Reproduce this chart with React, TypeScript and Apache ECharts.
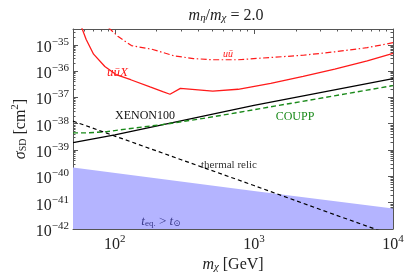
import React, { useEffect, useRef } from 'react';
import * as echarts from 'echarts';

// Data (physical units: GeV, cm^2)
const uuXMass = [57.8, 62.2, 70.3, 84.7, 102, 130, 179, 221, 249, 296, 506, 769, 1321, 2259, 3811, 6531, 10000];
const uuXSigma = [4.4e-35, 1.6e-35, 4.4e-36, 1.5e-36, 7.4e-37, 4.7e-37, 2.5e-37, 1.66e-37, 1.32e-37, 2.2e-37, 1.74e-37, 2.04e-37, 3.4e-37, 6.3e-37, 1.2e-36, 2.45e-36, 4.7e-36];
const uuMass = [90, 105, 131.5, 184, 267, 367, 506, 769, 1321, 2259, 3811, 6531, 10000];
const uuSigma = [4.5e-35, 2.1e-35, 9.3e-36, 6.8e-36, 3.8e-36, 3.0e-36, 2.7e-36, 2.7e-36, 3.3e-36, 4.0e-36, 5.4e-36, 7.8e-36, 1.2e-35];
const xenonMass = [50, 100, 1000, 10000];
const xenonSigma = [1.9e-39, 3.8e-39, 5.0e-38, 5.2e-37];
const couppMass = [50, 61.5, 84.7, 130, 221, 454, 1000, 10000];
const couppSigma = [4.5e-39, 4.5e-39, 4.9e-39, 6.6e-39, 9.3e-39, 1.66e-38, 3.4e-38, 2.8e-37];
const thermalMass = [50, 100, 300, 1000, 3000, 10000];
const thermalSigma = [1.26e-38, 3.4e-39, 4.3e-40, 4.5e-41, 5.5e-42, 5.7e-43];
const teqMass = [50, 1000, 10000];
const teqSigma = [2.15e-40, 2.8e-41, 6e-42];

const xMajorExp = [2, 3, 4];
const yMajorExp = [-42, -41, -40, -39, -38, -37, -36, -35];
const massMin = 50;
const massMax = 1e4;
const sigmaMinExp = -42;
const sigmaMaxExp = -34.4;

const pairs = (xs: number[], ys: number[]) => xs.map((x, i) => [Math.log10(x), Math.log10(ys[i])]);

const SERIF = '"Liberation Serif", "DejaVu Serif", serif';

export default function App() {
  const ref = useRef<HTMLDivElement>(null);
  useEffect(() => {
    if (!ref.current) return;
    const chart = echarts.init(ref.current, null, { renderer: 'svg' });
    const xMin = Math.log10(massMin);
    const xMax = Math.log10(massMax);
    const xMinor: number[] = [];
    for (let n = 1; n <= 3; n++) for (let k = 2; k <= 9; k++) {
      const v = Math.log10(k * Math.pow(10, n));
      if (v > xMin + 1e-6 && v < xMax - 1e-6) xMinor.push(v);
    }
    const yMinor: number[] = [];
    for (let n = -42; n <= -35; n++) for (let k = 2; k <= 9; k++) {
      const v = n + Math.log10(k);
      if (v < sigmaMaxExp) yMinor.push(v);
    }
    const line = { show: true, lineStyle: { color: '#555', width: 1 } };
    const tickStyle = { color: '#555', width: 1 };
    const labelRich = {
      b: { fontFamily: SERIF, fontSize: 16, color: '#222', lineHeight: 19, verticalAlign: 'bottom' },
      s: { fontFamily: SERIF, fontSize: 11, color: '#222', lineHeight: 11, verticalAlign: 'top' },
    };
    const fmt = (v: number) => `{b|10}{s|${String(Math.round(v)).replace('-', '\u2212')}}`;
    const mkX = (pos: string, major: boolean, labels: boolean) => ({
      type: 'value', min: xMin, max: xMax, position: pos, gridIndex: 0,
      axisLine: major ? line : { show: false },
      axisTick: { show: true, inside: true, length: major ? 5 : 2.5, customValues: major ? xMajorExp : xMinor, lineStyle: tickStyle },
      axisLabel: labels ? { show: true, customValues: xMajorExp, formatter: fmt, rich: labelRich, margin: 3 } : { show: false },
      splitLine: { show: false },
    });
    const mkY = (pos: string, major: boolean, labels: boolean) => ({
      type: 'value', min: sigmaMinExp, max: sigmaMaxExp, position: pos, gridIndex: 0,
      axisLine: major ? line : { show: false },
      axisTick: { show: true, inside: true, length: major ? 5 : 2.5, customValues: major ? yMajorExp : yMinor, lineStyle: tickStyle },
      axisLabel: labels ? { show: true, customValues: yMajorExp, formatter: fmt, rich: labelRich, margin: 4 } : { show: false },
      splitLine: { show: false },
    });
    const xAxes: any[] = [mkX('bottom', true, true), mkX('bottom', false, false), mkX('top', true, false), mkX('top', false, false)];
    xAxes[0].name = '{i|m}{sub|\u03c7}{n| [GeV]}';
    xAxes[0].nameLocation = 'middle';
    xAxes[0].nameGap = 23;
    xAxes[0].nameMoveOverlap = false;
    xAxes[0].nameTextStyle = {
      rich: {
        i: { fontFamily: SERIF, fontStyle: 'italic', fontSize: 16, color: '#222', lineHeight: 19, verticalAlign: 'bottom' },
        sub: { fontFamily: SERIF, fontStyle: 'italic', fontSize: 11, color: '#222', lineHeight: 10, verticalAlign: 'bottom' },
        n: { fontFamily: SERIF, fontSize: 16, color: '#222', lineHeight: 19, verticalAlign: 'bottom' },
      },
    };
    const yAxes: any[] = [mkY('left', true, true), mkY('left', false, false), mkY('right', true, false), mkY('right', false, false)];
    yAxes[0].name = '{i|\u03c3}{sub|SD}{n| [cm}{sup|2}{n|]}';
    yAxes[0].nameLocation = 'middle';
    yAxes[0].nameGap = 46;
    yAxes[0].nameRotate = 90;
    yAxes[0].nameMoveOverlap = false;
    yAxes[0].nameTextStyle = {
      rich: {
        i: { fontFamily: SERIF, fontStyle: 'italic', fontSize: 16, color: '#222', lineHeight: 19, verticalAlign: 'bottom' },
        sub: { fontFamily: SERIF, fontSize: 10, color: '#222', lineHeight: 10, verticalAlign: 'bottom' },
        sup: { fontFamily: SERIF, fontSize: 11, color: '#222', lineHeight: 11, verticalAlign: 'top' },
        n: { fontFamily: SERIF, fontSize: 16, color: '#222', lineHeight: 19, verticalAlign: 'bottom' },
      },
    };
    const base = { type: 'line', xAxisIndex: 0, yAxisIndex: 0, symbol: 'none', showSymbol: false, clip: true, silent: true };
    chart.setOption({
      animation: false,
      grid: { left: 62, right: 14, top: 29, bottom: 43, containLabel: false },
      xAxis: xAxes,
      yAxis: yAxes,
      series: [
        { ...base, name: 'teq', data: pairs(teqMass, teqSigma), lineStyle: { width: 0 }, areaStyle: { color: '#b4b4ff', opacity: 1, origin: 'start' }, z: 1 },
        { ...base, name: 'uuX', data: pairs(uuXMass, uuXSigma), lineStyle: { color: '#ff1a1a', width: 1.3 }, z: 3 },
        { ...base, name: 'uu', data: pairs(uuMass, uuSigma), lineStyle: { color: '#ff1a1a', width: 1.2, type: [6, 2.5, 1.5, 2.5] }, z: 3 },
        { ...base, name: 'XENON100', data: pairs(xenonMass, xenonSigma), lineStyle: { color: '#000', width: 1.3 }, z: 3 },
        { ...base, name: 'COUPP', data: pairs(couppMass, couppSigma), lineStyle: { color: '#1a8a1a', width: 1.4, type: [5, 3] }, z: 3 },
        { ...base, name: 'thermal', data: pairs(thermalMass, thermalSigma), lineStyle: { color: '#000', width: 1.2, type: [4, 3] }, z: 3 },
      ],
      graphic: [
        {
          type: 'text', x: 226, y: 13, z: 10,
          style: {
            text: '{i|m}{sub|\u03b7}{n|/}{i|m}{sub|\u03c7}{n| = 2.0}', align: 'center', verticalAlign: 'middle',
            rich: {
              i: { fontFamily: SERIF, fontStyle: 'italic', fontSize: 16, fill: '#222', lineHeight: 19, verticalAlign: 'bottom' },
              sub: { fontFamily: SERIF, fontStyle: 'italic', fontSize: 11, fill: '#222', lineHeight: 10, verticalAlign: 'bottom' },
              n: { fontFamily: SERIF, fontSize: 16, fill: '#222', lineHeight: 19, verticalAlign: 'bottom' },
            },
          },
        },
        { type: 'text', x: 107, y: 71, z: 10, style: { text: 'u\u016bX', font: `italic 13px ${SERIF}`, fill: '#ff1a1a', align: 'left', verticalAlign: 'middle' } },
        { type: 'text', x: 228, y: 53, z: 10, style: { text: 'u\u016b', font: `italic 10px ${SERIF}`, fill: '#ff1a1a', align: 'center', verticalAlign: 'middle' } },
        { type: 'text', x: 145, y: 115, z: 10, style: { text: 'XENON100', font: `12px ${SERIF}`, fill: '#111', align: 'center', verticalAlign: 'middle' } },
        { type: 'text', x: 295, y: 116, z: 10, style: { text: 'COUPP', font: `12px ${SERIF}`, fill: '#1a8a1a', align: 'center', verticalAlign: 'middle' } },
        { type: 'text', x: 229, y: 164, z: 10, style: { text: 'thermal relic', font: `11px ${SERIF}`, fill: '#333', align: 'center', verticalAlign: 'middle' } },
        {
          type: 'text', x: 161, y: 219, z: 10,
          style: {
            text: '{i|t}{sub|eq.}{n| > }{i|t}{sub|\u2299}', align: 'center', verticalAlign: 'middle',
            rich: {
              i: { fontFamily: SERIF, fontStyle: 'italic', fontSize: 13, fill: '#3a3a8a', lineHeight: 16, verticalAlign: 'bottom' },
              sub: { fontFamily: SERIF, fontSize: 9, fill: '#3a3a8a', lineHeight: 9, verticalAlign: 'bottom' },
              n: { fontFamily: SERIF, fontSize: 13, fill: '#3a3a8a', lineHeight: 16, verticalAlign: 'bottom' },
            },
          },
        },
      ],
    });
    return () => chart.dispose();
  }, []);
  return <div ref={ref} style={{ position: 'fixed', left: 0, top: 0, width: 407, height: 276 }} />;
}
